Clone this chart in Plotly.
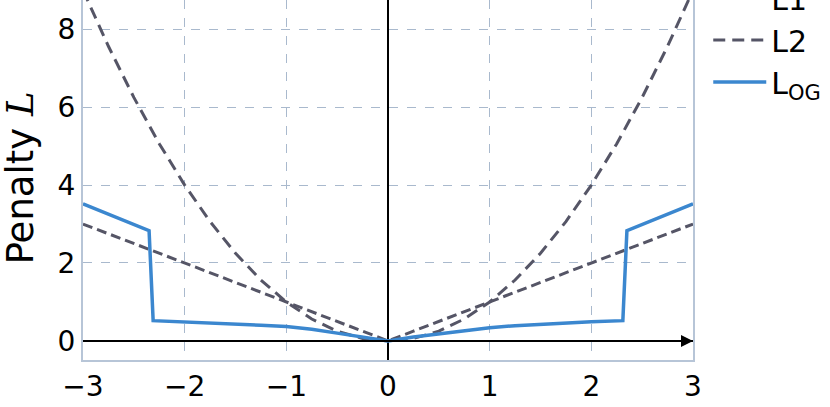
import plotly.graph_objects as go

# x sample points for the reference curves
x_ref = [-3.0, -2.75, -2.5, -2.25, -2.0, -1.75, -1.5, -1.25, -1.0, -0.75, -0.5, -0.25,
         0.0, 0.25, 0.5, 0.75, 1.0, 1.25, 1.5, 1.75, 2.0, 2.25, 2.5, 2.75, 3.0]
l1_vals = [3.0, 2.75, 2.5, 2.25, 2.0, 1.75, 1.5, 1.25, 1.0, 0.75, 0.5, 0.25,
           0.0, 0.25, 0.5, 0.75, 1.0, 1.25, 1.5, 1.75, 2.0, 2.25, 2.5, 2.75, 3.0]
l2_vals = [9.0, 7.5625, 6.25, 5.0625, 4.0, 3.0625, 2.25, 1.5625, 1.0, 0.5625, 0.25, 0.0625,
           0.0, 0.0625, 0.25, 0.5625, 1.0, 1.5625, 2.25, 3.0625, 4.0, 5.0625, 6.25, 7.5625, 9.0]

# L_OG penalty
x_og = [-3.0, -2.35, -2.31, -2.0, -1.75, -1.5, -1.25, -1.0, -0.75, -0.5, -0.25, 0.0,
        0.25, 0.5, 0.75, 1.0, 1.25, 1.5, 1.75, 2.0, 2.31, 2.35, 3.0]
og_vals = [3.52, 2.83, 0.52, 0.49, 0.46, 0.43, 0.40, 0.37, 0.30, 0.20, 0.10, 0.0,
           0.10, 0.18, 0.27, 0.34, 0.39, 0.43, 0.46, 0.49, 0.52, 2.83, 3.52]

x_ticks = [-3, -2, -1, 0, 1, 2, 3]
x_ticktext = ["\u22123", "\u22122", "\u22121", "0", "1", "2", "3"]
y_ticks = [0, 2, 4, 6, 8]
y_title = "Penalty <span style=\"font-family:'DejaVu Serif'\"><i>L</i></span>"

GRAY = "#555566"
BLUE = "#3b87cf"
FRAME = "#b7c5d7"
GRID = "#a9b9cd"

fig = go.Figure()
fig.add_trace(go.Scatter(x=x_ref, y=l1_vals, mode="lines", name="L1", legendgroup="a",
                         line=dict(color=GRAY, width=3, dash="10px,5px")))
fig.add_trace(go.Scatter(x=x_ref, y=l2_vals, mode="lines", name="L2", legendgroup="b",
                         line=dict(color=GRAY, width=3, dash="12px,7px")))
fig.add_trace(go.Scatter(x=x_og, y=og_vals, mode="lines", name="L<sub>OG</sub>", legendgroup="c",
                         line=dict(color=BLUE, width=3.5)))

# arrowhead on the x zero line
fig.add_annotation(x=3, y=0, ax=-3, ay=0, xref="x", yref="y", axref="x", ayref="y",
                   showarrow=True, arrowhead=2, arrowsize=1.2, arrowwidth=2,
                   arrowcolor="black", text=" ")

# y-axis title
fig.add_annotation(text=y_title, xref="paper", yref="paper", x=-0.103, y=0.505,
                   xanchor="center", yanchor="middle", textangle=-90, showarrow=False,
                   font=dict(size=37, family="DejaVu Sans", color="black"))

fig.update_layout(
    width=830, height=407,
    margin=dict(l=83, r=137, t=0, b=47, autoexpand=False),
    paper_bgcolor="white", plot_bgcolor="white",
    font=dict(family="DejaVu Sans", color="black", size=28),
    showlegend=True,
    legend=dict(x=1.025, xanchor="left", y=1.078, yanchor="top",
                font=dict(size=30, family="DejaVu Sans"),
                tracegroupgap=0, itemwidth=53, bgcolor="rgba(0,0,0,0)"),
    xaxis=dict(range=[-3, 3], tickvals=x_ticks, ticktext=x_ticktext,
               showgrid=True, gridcolor=GRID, griddash="dash", gridwidth=1,
               zeroline=True, zerolinecolor="black", zerolinewidth=2,
               showline=True, linecolor=FRAME, linewidth=2, mirror=True,
               ticks="", tickfont=dict(size=28)),
    yaxis=dict(range=[-0.49, 8.75], tickvals=y_ticks,
               showgrid=True, gridcolor=GRID, griddash="dash", gridwidth=1,
               zeroline=True, zerolinecolor="black", zerolinewidth=2,
               showline=True, linecolor=FRAME, linewidth=2, mirror=True,
               ticks="", tickfont=dict(size=28)),
)

fig.write_html("out.html", config={"displayModeBar": False},
               post_script="document.body.style.margin='0px';")
